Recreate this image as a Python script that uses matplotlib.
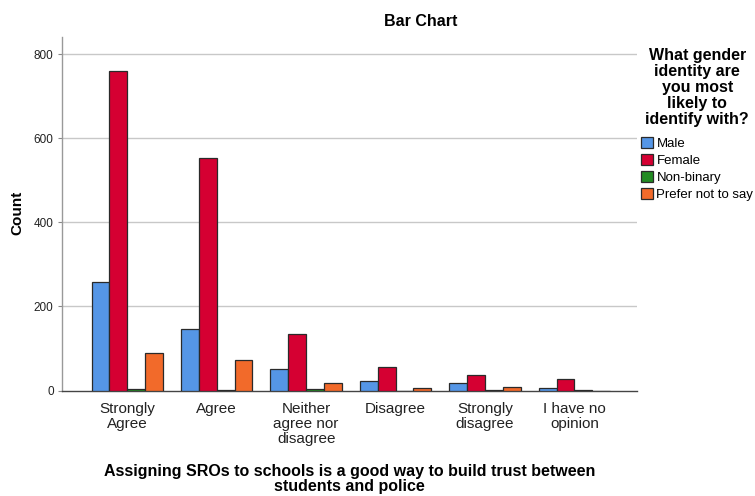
import matplotlib
matplotlib.use("Agg")
import matplotlib.pyplot as plt
import numpy as np
from matplotlib.patches import Patch

plt.rcParams['font.family'] = ['Liberation Sans', 'DejaVu Sans']

categories = ["Strongly\nAgree", "Agree", "Neither\nagree nor\ndisagree", "Disagree",
              "Strongly\ndisagree", "I have no\nopinion"]
series_names = ["Male", "Female", "Non-binary", "Prefer not to say"]
male = [258, 146, 52, 23, 17, 5]
female = [761, 553, 134, 55, 37, 27]
nonbinary = [3, 1, 3, 0, 2, 1]
prefer_not = [90, 72, 17, 5, 8, 0]
colors = ["#5596E6", "#D50032", "#228B22", "#F26A2A"]
yticks = [0, 200, 400, 600, 800]

W, H = 755, 496
fig = plt.figure(figsize=(W / 100, H / 100), dpi=100)
ax = fig.add_axes([62 / W, 1 - 390.5 / H, (637 - 62) / W, (390.5 - 37) / H])

x = np.arange(len(categories))
bw = 0.2
data = [male, female, nonbinary, prefer_not]
for i, (vals, c) in enumerate(zip(data, colors)):
    ax.bar(x + (i - 1.5) * bw, vals, width=bw, color=c, edgecolor="#2a2a2a",
           linewidth=0.9, zorder=3)

ax.set_xlim(-0.73, 5.70)
ax.set_ylim(0, 841)
ax.set_yticks(yticks)
ax.set_yticklabels([str(v) for v in yticks], fontsize=8.5, color="#222222")
ax.set_xticks(x)
ax.set_xticklabels(categories, fontsize=11, color="#222222", linespacing=1.12)
ax.tick_params(axis='x', length=0, pad=8)
ax.tick_params(axis='y', length=3, color="#888888", pad=3)
for yv in yticks[1:]:
    ax.axhline(yv, color="#c8c8c8", linewidth=1.0, zorder=1)
for s in ["top", "right"]:
    ax.spines[s].set_visible(False)
ax.spines["left"].set_color("#999999")
ax.spines["bottom"].set_color("#444444")
ax.spines["left"].set_linewidth(1.0)
ax.spines["bottom"].set_linewidth(1.0)

fig.text(17 / W, 1 - 213 / H, "Count", rotation=90, fontsize=11, fontweight="bold",
         ha="center", va="center")
fig.text(349.5 / W, 1 - 479 / H,
         "Assigning SROs to schools is a good way to build trust between\nstudents and police",
         fontsize=11.5, fontweight="bold", ha="center", va="center", linespacing=1.08)
fig.text(421 / W, 1 - 22 / H, "Bar Chart", fontsize=11.5, fontweight="bold",
         ha="center", va="center")

handles = [Patch(facecolor=c, edgecolor="#2a2a2a", linewidth=0.9) for c in colors]
leg = fig.legend(handles, series_names, loc="upper left",
                 bbox_to_anchor=(632 / W, 1 - 39 / H),
                 title="What gender\nidentity are\nyou most\nlikely to\nidentify with?",
                 title_fontproperties={"weight": "bold", "size": 11.5},
                 fontsize=9.5, frameon=False, handlelength=0.9, handleheight=0.9,
                 handletextpad=0.25, labelspacing=0.3, borderpad=0.2, alignment="center")
leg._legend_box.sep = 7
leg.get_title().set_linespacing(1.08)
leg.get_title().set_multialignment("center")

fig.savefig("out.png", dpi=100)
